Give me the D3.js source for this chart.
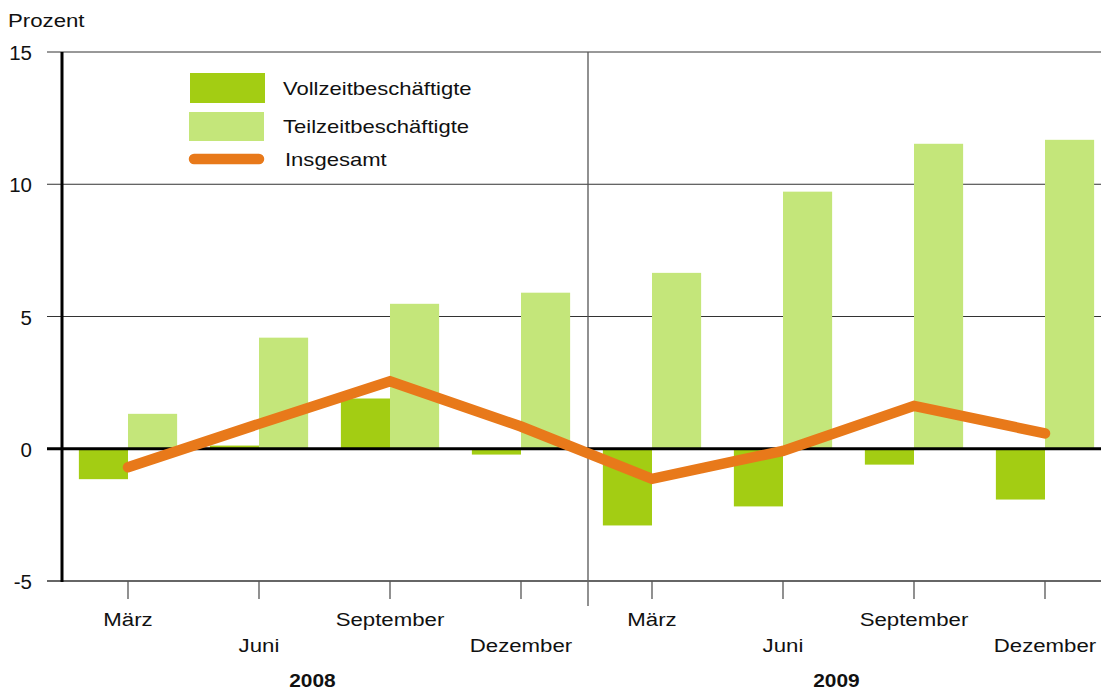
<!DOCTYPE html>
<html>
<head>
<meta charset="utf-8">
<script src="https://cdn.jsdelivr.net/npm/d3@7"></script>
<style>
  html, body { margin: 0; padding: 0; background: #fff; }
  svg text { font-family: "Liberation Sans", Arial, sans-serif; fill: #111; }
</style>
</head>
<body>
<svg id="chart" width="1101" height="692"></svg>
<script>
/* Daten: Veränderung gegenüber Vorjahresquartal in Prozent */
const quartale   = ["2008-03", "2008-06", "2008-09", "2008-12", "2009-03", "2009-06", "2009-09", "2009-12"];
const monate     = ["März", "Juni", "September", "Dezember", "März", "Juni", "September", "Dezember"];
const jahre      = ["2008", "2009"];
const vollzeit   = [-1.15, 0.12, 1.9, -0.22, -2.9, -2.18, -0.6, -1.92];
const teilzeit   = [1.32, 4.2, 5.48, 5.9, 6.65, 9.72, 11.53, 11.68];
const insgesamt  = [-0.7, 0.94, 2.55, 0.84, -1.14, -0.08, 1.62, 0.58];
const yTicks     = [-5, 0, 5, 10, 15];

const FARBE_VOLL  = "#a3cd13";
const FARBE_TEIL  = "#c4e67a";
const FARBE_LINIE = "#e8791a";

// Die Vorlage hat leicht in die Breite gezogene Schrift
const STRECK = 1.17;

const svg = d3.select("#chart");

/* ── SKALEN ─────────────────────────────────── */
const x = d3.scaleBand()
  .domain(quartale)
  .range([62.5, 62.5 + 131 * quartale.length])
  .padding(0);

const y = d3.scaleLinear()
  .domain([-5, 15])
  .range([581, 52]);

const bw   = x.bandwidth() * 0.375;
const mitte = d => x(d) + x.bandwidth() / 2;

const platziere = (tx, ty, sx) => `translate(${tx},${ty}) scale(${sx},1)`;

/* ── GITTER ─────────────────────────────────── */
svg.append("g")
  .selectAll("line")
  .data(yTicks.filter(t => t > 0))
  .join("line")
  .attr("x1", 47).attr("x2", 1101)
  .attr("y1", d => y(d)).attr("y2", d => y(d))
  .attr("stroke", "#333").attr("stroke-width", 1);

// Trennlinie zwischen den Jahren
const trennX = x(quartale[4]) + 1.5;
svg.append("line")
  .attr("x1", trennX).attr("x2", trennX)
  .attr("y1", y(15)).attr("y2", 606)
  .attr("stroke", "#555").attr("stroke-width", 1.3);

/* ── BALKEN ─────────────────────────────────── */
svg.append("g")
  .selectAll("rect")
  .data(quartale.map((q, i) => ({ q, v: vollzeit[i] })))
  .join("rect")
  .attr("x", d => mitte(d.q) - bw)
  .attr("width", bw)
  .attr("y", d => y(Math.max(0, d.v)))
  .attr("height", d => Math.abs(y(d.v) - y(0)))
  .attr("fill", FARBE_VOLL);

svg.append("g")
  .selectAll("rect")
  .data(quartale.map((q, i) => ({ q, v: teilzeit[i] })))
  .join("rect")
  .attr("x", d => mitte(d.q))
  .attr("width", bw)
  .attr("y", d => y(Math.max(0, d.v)))
  .attr("height", d => Math.abs(y(d.v) - y(0)))
  .attr("fill", FARBE_TEIL);

/* ── ACHSEN ─────────────────────────────────── */
// untere Achse bei -5 mit Strichen an den Quartalsmitten
svg.append("line")
  .attr("x1", 47).attr("x2", 1101)
  .attr("y1", y(-5)).attr("y2", y(-5))
  .attr("stroke", "#666").attr("stroke-width", 2);

svg.append("g")
  .selectAll("line")
  .data(quartale)
  .join("line")
  .attr("x1", d => mitte(d)).attr("x2", d => mitte(d))
  .attr("y1", y(-5)).attr("y2", 599)
  .attr("stroke", "#555").attr("stroke-width", 1.3);

// Nulllinie
svg.append("line")
  .attr("x1", 47).attr("x2", 1101)
  .attr("y1", y(0)).attr("y2", y(0))
  .attr("stroke", "#000").attr("stroke-width", 3);

// linke Achse
svg.append("line")
  .attr("x1", 62).attr("x2", 62)
  .attr("y1", y(15)).attr("y2", y(-5) + 1)
  .attr("stroke", "#000").attr("stroke-width", 3);

svg.append("g")
  .selectAll("text")
  .data(yTicks)
  .join("text")
  .attr("transform", d => platziere(32, y(d) + 8, 1.05))
  .attr("text-anchor", "end")
  .attr("font-size", 19.5)
  .text(d => d);

svg.append("text")
  .attr("transform", platziere(8, 27, STRECK))
  .attr("font-size", 19)
  .text("Prozent");

/* ── LINIE ──────────────────────────────────── */
const linie = d3.line()
  .x((d, i) => mitte(quartale[i]))
  .y(d => y(d));

svg.append("path")
  .datum(insgesamt)
  .attr("d", linie)
  .attr("fill", "none")
  .attr("stroke", FARBE_LINIE)
  .attr("stroke-width", 10.5)
  .attr("stroke-linecap", "round")
  .attr("stroke-linejoin", "miter");

/* ── BESCHRIFTUNG X ─────────────────────────── */
svg.append("g")
  .selectAll("text")
  .data(quartale)
  .join("text")
  .attr("transform", (d, i) => platziere(mitte(d), i % 2 === 0 ? 626 : 652, STRECK))
  .attr("text-anchor", "middle")
  .attr("font-size", 19)
  .text((d, i) => monate[i]);

svg.append("g")
  .selectAll("text")
  .data(jahre)
  .join("text")
  .attr("transform", (d, i) =>
    platziere((mitte(quartale[i * 4 + 1]) + mitte(quartale[i * 4 + 2])) / 2 - 12, 687, 1.1))
  .attr("text-anchor", "middle")
  .attr("font-size", 19)
  .attr("font-weight", "bold")
  .text(d => d);

/* ── LEGENDE ────────────────────────────────── */
const legende = svg.append("g");
legende.append("rect").attr("x", 190).attr("y", 73).attr("width", 75).attr("height", 30).attr("fill", FARBE_VOLL);
legende.append("rect").attr("x", 189).attr("y", 112).attr("width", 75).attr("height", 29).attr("fill", FARBE_TEIL);
legende.append("line")
  .attr("x1", 194).attr("x2", 259).attr("y1", 159).attr("y2", 159)
  .attr("stroke", FARBE_LINIE).attr("stroke-width", 10.5).attr("stroke-linecap", "round");

const legTexte = ["Vollzeitbeschäftigte", "Teilzeitbeschäftigte", "Insgesamt"];
const legY     = [95, 133, 166];
legende.selectAll("text.leg")
  .data(legTexte)
  .join("text")
  .attr("class", "leg")
  .attr("transform", (d, i) => platziere(i === 2 ? 285 : 283, legY[i], 1.16))
  .attr("font-size", 19)
  .text(d => d);
</script>
</body>
</html>
